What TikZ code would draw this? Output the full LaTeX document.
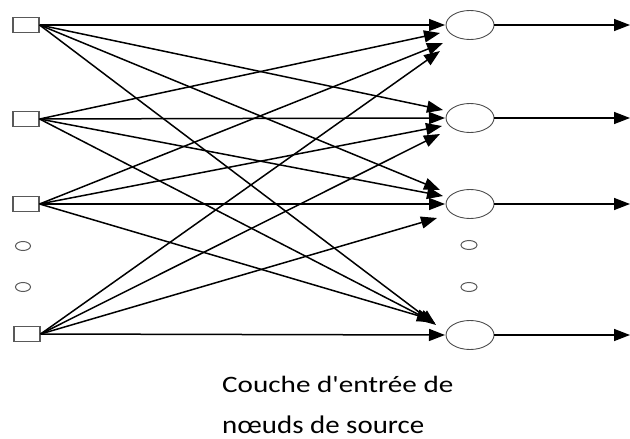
\documentclass[tikz,border=0pt]{standalone}
\usepackage{fontspec}
\setmainfont{Carlito}[Ligatures=TeXOff]
\usetikzlibrary{arrows.meta,shapes.geometric}
\begin{document}
\begin{tikzpicture}[x=1pt,y=-1pt,
  inbox/.style={draw=black!65,line width=1.2pt,minimum width=26pt,minimum height=15pt,inner sep=0pt},
  outell/.style={draw=black!70,line width=0.9pt,ellipse,minimum width=48pt,minimum height=29pt,inner sep=0pt},
  dotell/.style={draw=black!65,line width=1pt,ellipse,minimum width=15pt,minimum height=9pt,inner sep=0pt},
  conn/.style={line width=1.5pt,-{Triangle[length=16pt,width=12pt]}},
  lab/.style={font=\fontsize{23.5}{28}\selectfont,anchor=base west,inner sep=0pt}]
\useasboundingbox (0,0) rectangle (630,439);
% input nodes
\node[inbox] (i1) at (26,25) {};
\node[inbox] (i2) at (26,119) {};
\node[inbox] (i3) at (26,204) {};
\node[inbox] (i4) at (27,334) {};
\node[dotell] (ld1) at (23,246) {};
\node[dotell] (ld2) at (23,287) {};
% output nodes
\node[outell] (o1) at (470,25) {};
\node[outell] (o2) at (470,118) {};
\node[outell] (o3) at (470,204) {};
\node[outell] (o4) at (470,335) {};
\node[dotell,minimum width=16pt] (rd1) at (469,245) {};
\node[dotell,minimum width=16pt] (rd2) at (469,287) {};
% tips
\coordinate (t11) at (445,25);
\coordinate (t21) at (440,33);
\coordinate (t31) at (443,43);
\coordinate (t41) at (440,51);
\coordinate (t12) at (443,110);
\coordinate (t22) at (445,118);
\coordinate (t32) at (442,126);
\coordinate (t42) at (440,134);
\coordinate (t13) at (440,190);
\coordinate (t23) at (443,196);
\coordinate (t33) at (445,204);
\coordinate (t43) at (437,218);
\coordinate (t14) at (436,325);
\coordinate (t24) at (435,323);
\coordinate (t34) at (433,320);
\coordinate (t44) at (445,335);
\coordinate (e1) at (630,25);
\coordinate (e2) at (630,118);
\coordinate (e3) at (630,204);
\coordinate (e4) at (630,335);
% connections
\foreach \i in {1,2,3,4}{
  \foreach \j in {1,2,3,4}{
    \draw[conn] (i\i.east) -- (t\i\j);
  }
}
\foreach \j in {1,2,3,4}{
  \draw[conn] (o\j.east) -- (e\j);
}
% label
\node[lab] (l1) at (222,392) {\scalebox{1.24}[1]{Couche d'entrée de}};
\node[lab] (l2) at (222,433) {\scalebox{1.23}[1.08]{nœuds de source}};
\end{tikzpicture}
\end{document}
